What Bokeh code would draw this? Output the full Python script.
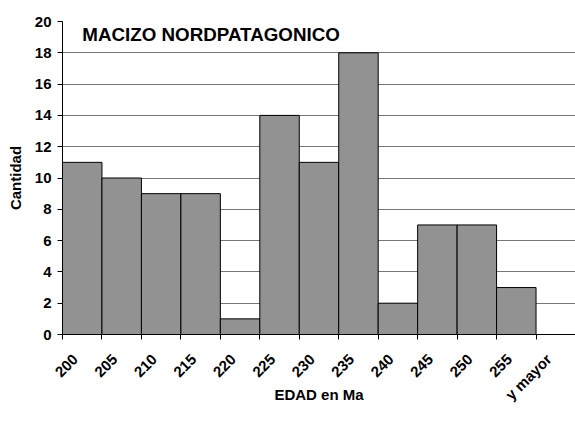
from math import pi
from bokeh.plotting import figure
from bokeh.models import Range1d, FixedTicker, Label
from bokeh.embed import file_html
from bokeh.resources import INLINE

categories = ["200", "205", "210", "215", "220", "225", "230", "235", "240",
              "245", "250", "255", "y mayor"]
counts = [11, 10, 9, 9, 1, 14, 11, 18, 2, 7, 7, 3, 0]
y_ticks = [0, 2, 4, 6, 8, 10, 12, 14, 16, 18, 20]
title_text = "MACIZO NORDPATAGONICO"
x_title = "EDAD en Ma"
y_title = "Cantidad"

n = len(categories)
centers = [i + 0.5 for i in range(n)]
bounds = list(range(n + 1))
LABEL_SHIFT = 0.18  # rotated labels sit slightly left of the bin centre
label_pos = [c - LABEL_SHIFT for c in centers]

FONT = "Liberation Sans"

p = figure(output_backend="svg", toolbar_location=None,
           frame_width=513, frame_height=313,
           min_border_left=62, min_border_top=21, min_border_right=0,
           min_border_bottom=84,
           x_range=Range1d(0, n), y_range=Range1d(0, 20))
p.outline_line_color = None
p.background_fill_color = "white"
p.border_fill_color = "white"

p.vbar(x=centers, top=counts, width=1, fill_color="#929292",
       line_color="black", line_width=1)

# x axis
xa = p.xaxis[0]
xa.ticker = FixedTicker(ticks=label_pos, minor_ticks=bounds)
xa.major_label_overrides = {c: lab for c, lab in zip(label_pos, categories)}
xa.major_label_orientation = pi / 4
xa.major_tick_line_color = None
xa.minor_tick_line_color = "black"
xa.minor_tick_out = 5
xa.minor_tick_in = 0
xa.axis_line_color = "black"
xa.major_label_text_font = FONT
xa.major_label_text_font_style = "bold"
xa.major_label_text_font_size = "15px"
xa.major_label_text_color = "black"
xa.major_label_standoff = 16
xa.axis_label = x_title
xa.axis_label_text_font = FONT
xa.axis_label_text_font_style = "bold"
xa.axis_label_text_font_size = "15px"
xa.axis_label_text_color = "black"
xa.axis_label_standoff = -26

# y axis
ya = p.yaxis[0]
ya.ticker = FixedTicker(ticks=y_ticks)
ya.minor_tick_line_color = None
ya.major_tick_out = 5
ya.major_tick_in = 0
ya.major_tick_line_color = "black"
ya.axis_line_color = "black"
ya.major_label_text_font = FONT
ya.major_label_text_font_style = "bold"
ya.major_label_text_font_size = "15px"
ya.major_label_text_color = "black"
ya.major_label_standoff = 6
ya.axis_label = y_title
ya.axis_label_text_font = FONT
ya.axis_label_text_font_style = "bold"
ya.axis_label_text_font_size = "15px"
ya.axis_label_text_color = "black"
ya.axis_label_standoff = 8

p.xgrid.grid_line_color = None
p.ygrid.ticker = FixedTicker(ticks=y_ticks)
p.ygrid.grid_line_color = "#777777"
p.ygrid.grid_line_width = 1

p.add_layout(Label(x=0.5, y=19.15, text=title_text, text_font=FONT,
                   text_font_style="bold", text_font_size="18.8px",
                   text_baseline="middle", text_color="black"))

open("out.html", "w").write(file_html(p, INLINE))
